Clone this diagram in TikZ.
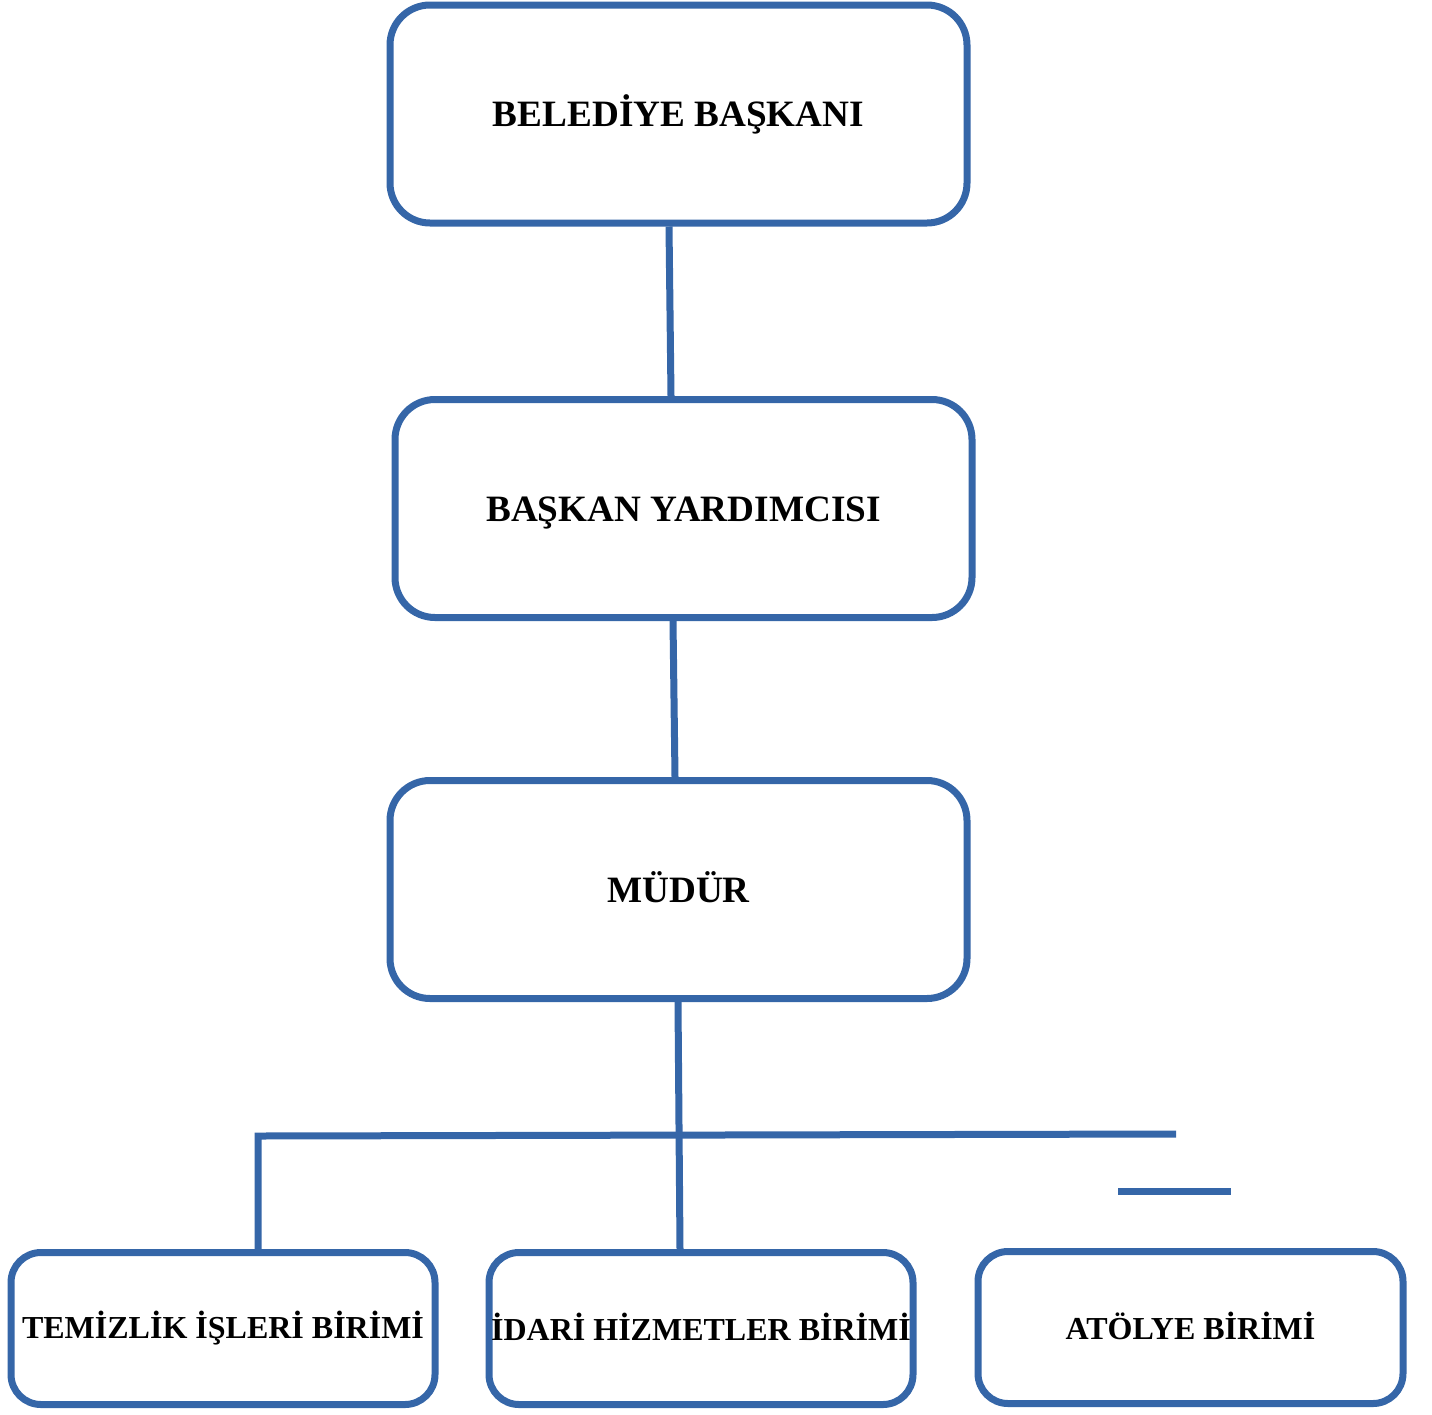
\documentclass[tikz,border=0pt]{standalone}
\usepackage{fontspec}
\setmainfont{Liberation Serif}
\usetikzlibrary{positioning}
\definecolor{orgblue}{RGB}{53,102,168}
\tikzset{
  bigbox/.style={draw=orgblue, line width=7pt, rounded corners=40pt, minimum width=577pt, minimum height=218pt, inner sep=0pt},
  smallbox/.style={draw=orgblue, line width=7pt, rounded corners=30pt, minimum width=424pt, minimum height=152pt, inner sep=0pt},
  bigtxt/.style={inner sep=0pt, font=\fontsize{37.2}{42}\selectfont\bfseries, text=black},
  smalltxt/.style={inner sep=0pt, font=\fontsize{32}{36}\selectfont\bfseries, text=black},
  conn/.style={draw=orgblue, line width=7pt}
}
\begin{document}
\begin{tikzpicture}[x=1pt,y=-1pt]
\useasboundingbox (0,0) rectangle (1432,1414);
\node[bigbox] (b1) at (678.5,114) {};
\node[bigbox] (b2) at (683.5,508.5) {};
\node[bigbox] (b3) at (678.5,889.5) {};
\node[smallbox] (b4) at (223,1328.5) {};
\node[smallbox] (b5) at (701,1328.5) {};
\node[smallbox, minimum width=425pt] (b6) at (1190.5,1327.5) {};
\node[bigtxt] (t1) at (b1.center) {BELEDİYE BAŞKANI};
\node[bigtxt, yshift=-5pt] (t2) at (b2.center) {BAŞKAN YARDIMCISI};
\node[bigtxt, yshift=2pt] (t3) at (b3.center) {MÜDÜR};
\node[smalltxt] (t4) at (b4.center) {TEMİZLİK İŞLERİ BİRİMİ};
\node[smalltxt, yshift=2pt] (t5) at (b5.center) {İDARİ HİZMETLER BİRİMİ};
\node[smalltxt, yshift=2pt] (t6) at (b6.center) {ATÖLYE BİRİMİ};
\coordinate (hl) at (258,1136);
\coordinate (hr) at (1176,1134);
\coordinate (s1) at (1118,1191);
\coordinate (s2) at (1231,1191);
\draw[conn] ([xshift=-9.5pt]b1.south) -- ([xshift=-12.5pt]b2.north);
\draw[conn] ([xshift=-10.5pt]b2.south) -- ([xshift=-3.5pt]b3.north);
\draw[conn] ([xshift=-0.5pt]b3.south) -- ([xshift=-21pt]b5.north);
\draw[conn] ([xshift=35pt]b4.north) -- (hl) -- (hr);
\draw[conn] (s1) -- (s2);
\end{tikzpicture}
\end{document}
